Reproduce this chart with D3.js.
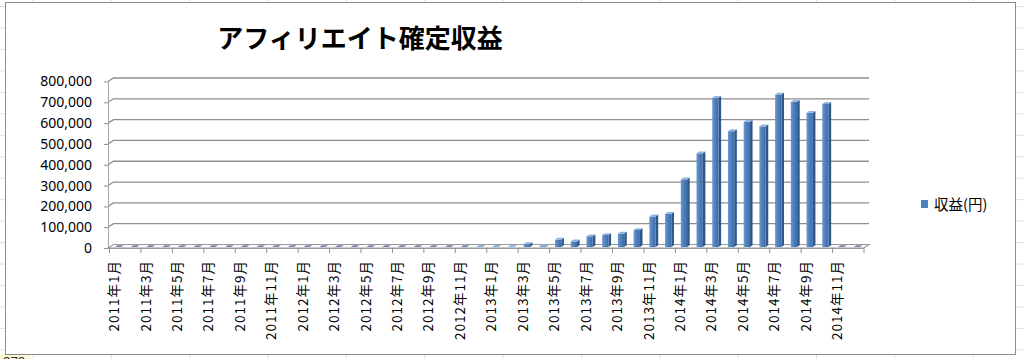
<!DOCTYPE html>
<html><head><meta charset="utf-8">
<script src="https://cdn.jsdelivr.net/npm/d3@7"></script>
<style>body{margin:0;background:#fff} svg{display:block}</style>
</head><body><svg id="c" width="1024" height="359"></svg>
<script>
const categories = [
"2011年1月","2011年2月","2011年3月","2011年4月","2011年5月","2011年6月","2011年7月","2011年8月","2011年9月","2011年10月","2011年11月","2011年12月",
"2012年1月","2012年2月","2012年3月","2012年4月","2012年5月","2012年6月","2012年7月","2012年8月","2012年9月","2012年10月","2012年11月","2012年12月",
"2013年1月","2013年2月","2013年3月","2013年4月","2013年5月","2013年6月","2013年7月","2013年8月","2013年9月","2013年10月","2013年11月","2013年12月",
"2014年1月","2014年2月","2014年3月","2014年4月","2014年5月","2014年6月","2014年7月","2014年8月","2014年9月","2014年10月","2014年11月","2014年12月"];
const revenue = [
0,0,0,0,0,0,0,0,0,0,0,0,
0,0,0,0,0,0,0,0,0,0,0,1000,
1000,1500,14000,4000,36000,27000,52000,58000,65000,82000,147000,160000,
325000,450000,717000,557000,602000,580000,733000,698000,645000,688000,0,0];
const yTickValues = [0,100000,200000,300000,400000,500000,600000,700000,800000];
const chartTitle = "アフィリエイト確定収益";
const seriesName = "収益(円)";

const svg = d3.select("#c");
const defs = svg.append("defs");

// spreadsheet background grid
const colX = d3.range(0, 13).map(k => 33 + 78.35 * k);
const rowY = d3.range(-1, 16).map(k => 28 + 21.46 * k);
const sheet = svg.append("g");
sheet.selectAll("line.v").data(colX).join("line")
  .attr("x1", d => d).attr("x2", d => d).attr("y1", 0).attr("y2", 359)
  .attr("stroke", "#dfe1e3").attr("stroke-width", 1);
sheet.selectAll("line.h").data(rowY).join("line")
  .attr("y1", d => d).attr("y2", d => d).attr("x1", 0).attr("x2", 1024)
  .attr("stroke", "#dfe1e3").attr("stroke-width", 1);
sheet.append("rect").attr("x", 0).attr("y", 354).attr("width", 30).attr("height", 5).attr("fill", "#fdf8d6");
sheet.append("text").attr("x", 3).attr("y", 366).attr("font-family", "Noto Sans").attr("font-size", 13)
  .attr("fill", "#333").text("878");

// chart box
svg.append("rect").attr("x", 5.5).attr("y", 2.5).attr("width", 1010).attr("height", 352)
  .attr("fill", "#fff").attr("stroke", "#8c8c8c").attr("stroke-width", 1);

// title
svg.append("text").attr("x", 360).attr("y", 48).attr("text-anchor", "middle")
  .attr("font-family", "Noto Sans CJK JP").attr("font-weight", "bold").attr("font-size", 26)
  .attr("fill", "#000").text(chartTitle);

// scales
const X0 = 109, X1 = 863.5;
const x = d3.scaleBand().domain(categories).range([X0, X1]).padding(0);
const xb = d3.scaleLinear().domain([0, categories.length]).range([X0, X1]);
const y = d3.scaleLinear().domain([0, 800000]).range([248, 81.5]);
const DX = 5.5, DY = -3.5;   // floor / wall depth

// gridlines on back wall (with left wall edge)
const grid = svg.append("g");
grid.selectAll("path").data(yTickValues.filter(v => v > 0)).join("path")
  .attr("d", v => `M108,${y(v)}L${108 + DX},${y(v) + DY}L${X1 + DX},${y(v) + DY}`)
  .attr("fill", "none").attr("stroke", "#8e8e8e").attr("stroke-width", 1.3);

// y axis
const yAxis = svg.append("g").attr("transform", "translate(108,0)")
  .call(d3.axisLeft(y).tickValues(yTickValues).tickFormat(d3.format(",")).tickSize(4).tickSizeOuter(0).tickPadding(12));
yAxis.select(".domain").attr("stroke", "#a6a6a6");
yAxis.selectAll(".tick line").attr("stroke", "#8e8e8e");
yAxis.selectAll("text").attr("font-family", "Noto Sans").attr("font-size", 14).attr("fill", "#000");

// floor
svg.append("path")
  .attr("d", `M108,${y(0)}L${X1},${y(0)}L${X1 + DX},${y(0) + DY}L${108 + DX},${y(0) + DY}Z`)
  .attr("fill", "#fff").attr("stroke", "#9a9a9a").attr("stroke-width", 1.2);

// bars (3D)
const grad = defs.append("linearGradient").attr("id", "front").attr("x1", 0).attr("x2", 1).attr("y1", 0).attr("y2", 0);
grad.append("stop").attr("offset", "0%").attr("stop-color", "#6b98d3");
grad.append("stop").attr("offset", "45%").attr("stop-color", "#4f81bd");
grad.append("stop").attr("offset", "100%").attr("stop-color", "#3f6ca8");

const bw = x.step() / 2.5;
const OX = 1.2, OY = -0.9, BDX = 2.6, BDY = -1.9;
const data = categories.map((c, i) => ({ c, v: revenue[i] }));
const bars = svg.append("g").selectAll("g").data(data).join("g");
const bx = d => x(d.c) + (x.step() - bw) / 2 + OX;
const bTop = d => y(d.v) + OY;
const bBot = d => y(0) + OY;
bars.append("path")
  .attr("d", d => `M${bx(d) + bw},${bTop(d)}L${bx(d) + bw + BDX},${bTop(d) + BDY}L${bx(d) + bw + BDX},${bBot(d) + BDY}L${bx(d) + bw},${bBot(d)}Z`)
  .attr("fill", "#2f5789");
bars.filter(d => d.v > 0).append("rect")
  .attr("x", bx).attr("y", bTop).attr("width", bw).attr("height", d => bBot(d) - bTop(d))
  .attr("fill", "url(#front)");
bars.append("path")
  .attr("d", d => `M${bx(d)},${bTop(d)}L${bx(d) + BDX},${bTop(d) + BDY}L${bx(d) + bw + BDX},${bTop(d) + BDY}L${bx(d) + bw},${bTop(d)}Z`)
  .attr("fill", d => d.v > 0 ? "#8fb2df" : "#7187a6");

// x axis ticks (category boundaries) and labels
const xt = svg.append("g").attr("transform", `translate(0,${y(0)})`)
  .call(d3.axisBottom(xb).tickValues(d3.range(0, categories.length + 1, 2)).tickFormat("").tickSize(5).tickSizeOuter(0));
xt.select(".domain").attr("stroke", "#9a9a9a");
xt.selectAll(".tick line").attr("stroke", "#8e8e8e");

const xl = svg.append("g").attr("transform", `translate(0,${y(0)})`)
  .call(d3.axisBottom(x).tickValues(categories.filter((c, i) => i % 2 === 0)).tickSize(0));
xl.select(".domain").remove();
xl.selectAll(".tick").attr("transform", d => `translate(${x(d) + x.step() / 2 - 2.5},0)`);
xl.selectAll("text")
  .attr("transform", "rotate(-90)").attr("x", -12).attr("y", 0).attr("dy", "0.35em")
  .attr("text-anchor", "end").attr("font-family", "Noto Sans CJK JP").attr("font-size", 13.5)
  .attr("letter-spacing", 1).attr("fill", "#000");

// legend
svg.append("rect").attr("x", 921).attr("y", 200).attr("width", 7).attr("height", 8).attr("fill", "#4f81bd");
svg.append("text").attr("x", 934).attr("y", 204.5).attr("dy", "0.35em")
  .attr("font-family", "Noto Sans CJK JP").attr("font-size", 14.5).attr("fill", "#000").text(seriesName);
</script></body></html>
